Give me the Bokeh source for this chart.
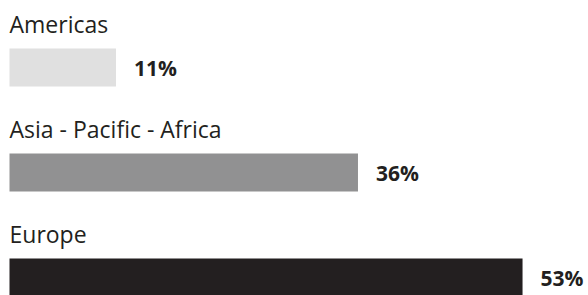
from bokeh.plotting import figure
from bokeh.models import Range1d, ColumnDataSource
from bokeh.core.properties import value
from bokeh.embed import file_html
from bokeh.resources import INLINE

regions = ["Americas", "Asia - Pacific - Africa", "Europe"]
shares = [11, 36, 53]
colors = ["#e0e0e0", "#919192", "#231f20"]

W, H = 588, 295
k = 9.68          # px per percentage point
left_px = 9       # px from left edge to bar start
row_px = 105      # px between rows
first_center = 67 # px from top of figure to first bar center

rows = list(range(len(regions)))
src = ColumnDataSource(dict(
    y=rows, share=shares, region=regions, color=colors,
    label=[f"{s}%" for s in shares],
))

p = figure(width=W, height=H, output_backend="svg", toolbar_location=None,
           x_range=Range1d(-left_px / k, (W - left_px) / k),
           y_range=Range1d((H - first_center) / row_px, -first_center / row_px),
           min_border=0, outline_line_color=None, background_fill_color="white",
           border_fill_color="white")
p.xaxis.visible = False
p.yaxis.visible = False
p.xgrid.visible = False
p.ygrid.visible = False

p.hbar(y="y", left=0, right="share", height=38 / row_px, color="color",
       line_color=None, source=src)

p.text(x=0, y="y", text="region", source=src, y_offset=-44,
       text_font=value("Open Sans"), text_font_size="23px",
       text_color="#231f20", text_baseline="alphabetic", text_align="left")

p.text(x="share", y="y", text="label", source=src, x_offset=18, y_offset=0,
       text_font=value("Open Sans"), text_font_size="21px", text_font_style="bold",
       text_color="#231f20", text_baseline="middle", text_align="left")

open("out.html", "w").write(file_html(p, INLINE))
